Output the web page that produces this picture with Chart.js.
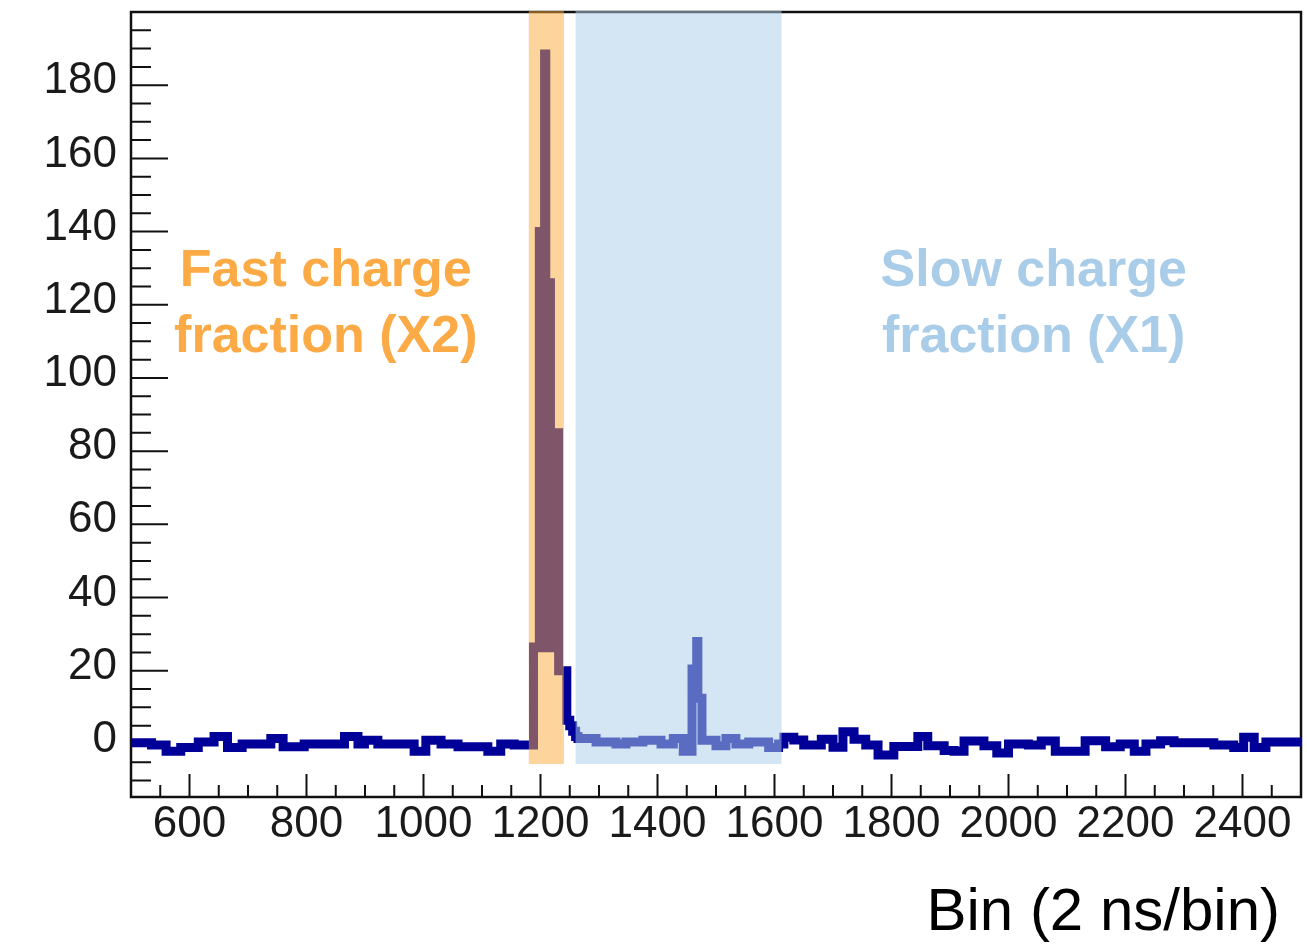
<!DOCTYPE html>
<html>
<head>
<meta charset="utf-8">
<script src="https://cdn.jsdelivr.net/npm/chart.js@4.4.0/dist/chart.umd.min.js"></script>
<style>
  html, body { margin: 0; padding: 0; background: #fff; }
  #wrap { width: 1307px; height: 952px; }
</style>
</head>
<body>
<div id="wrap"><canvas id="pulse-chart"></canvas></div>
<script>
// Waveform: bin where each step starts, and the level it holds
const stepStart = [500, 535, 560, 585, 615, 642, 665, 690, 739, 760, 796, 865, 888, 899, 922, 984, 1004, 1030, 1059, 1110, 1132, 1155,
  1188, 1198, 1207, 1209, 1217, 1231, 1245, 1250, 1255, 1260,
  1264, 1295, 1329, 1346, 1375, 1406, 1427, 1444, 1459, 1467, 1469, 1476, 1500, 1517, 1534, 1556, 1590, 1607,
  1616, 1633, 1650, 1680, 1700, 1717, 1736, 1756, 1777, 1804, 1845, 1862, 1890, 1907, 1924, 1958, 1980, 2000,
  2034, 2056, 2080, 2131, 2166, 2191, 2215, 2235, 2260, 2283, 2351, 2385, 2402, 2420, 2440, 2500];
const stepLevel = [0.3, -0.3, -2, -1, 0.5, 2, -1, 0, 1.5, -0.8, 0, 2, 0, 1, 0, -2, 1, 0, -0.8, -2, 0, -0.3,
  26.5, 140, 188.5, 126, 85, 20, 6.5, 5, 3.5, 2,
  1.5, 0.5, 0, 0.5, 1, 0, 1.5, -2, 20.5, 28, 12.5, 1, -0.5, 1.5, 0, 0.5, -1, 0,
  1.8, 1.1, -0.3, 1.3, -0.9, 3.3, 1.3, -0.3, -3, -0.7, 2, -0.5, -1.8, -2, 0.8, -0.5, -2.5, 0,
  -0.3, 0.8, -2, 0.9, -0.8, 0, -2, 0, 0.9, 0.3, -0.3, -1, 1.8, -1, 0.5, 0.5];

// Axes
const xRange = [500, 2500];
const yRange = [-14.5, 200];
const xTicks = [600, 800, 1000, 1200, 1400, 1600, 1800, 2000, 2200, 2400];
const yTicks = [0, 20, 40, 60, 80, 100, 120, 140, 160, 180];
const xMinorStep = 50;
const yMinorStep = 5;
const xTitle = "Bin (2 ns/bin)";

// Charge integration windows (bins), drawn over the waveform
const fastWindow = [1180, 1240];
const slowWindow = [1260, 1612];
const windowLow = -5.5;

const fastLabel = ["Fast charge", "fraction (X2)"];
const slowLabel = ["Slow charge", "fraction (X1)"];
const labelX = [833, 2043];
const labelY = [129, 111];

const navy = "#000099";
const fastColor = "rgba(251, 169, 57, 0.5)";
const slowColor = "rgba(172, 205, 232, 0.52)";
const fastText = "#FBAA45";
const slowText = "#A9CCE8";
const frameColor = "#111";

const points = stepStart.map((x, i) => ({ x: x, y: stepLevel[i] }));
// the dense fast pulse looks solid above ~25 counts
const pulsePoints = points.filter(p => p.x >= fastWindow[0] && p.x <= fastWindow[1]);

const rootFrame = {
  id: "rootFrame",
  beforeDatasetsDraw(chart) {
    const { ctx, chartArea: a, scales: { x, y } } = chart;
    ctx.save();
    ctx.strokeStyle = frameColor;
    ctx.lineWidth = 2;
    ctx.beginPath();
    for (let v = xRange[0] + xMinorStep; v < xRange[1]; v += xMinorStep) {
      const px = x.getPixelForValue(v);
      const len = v % 200 === 0 ? 23 : 12;
      ctx.moveTo(px, a.bottom);
      ctx.lineTo(px, a.bottom - len);
    }
    for (let v = -10; v < yRange[1]; v += yMinorStep) {
      const py = y.getPixelForValue(v);
      const len = v % 20 === 0 ? 37 : 20;
      ctx.moveTo(a.left, py);
      ctx.lineTo(a.left + len, py);
    }
    ctx.stroke();
    ctx.lineWidth = 2.5;
    ctx.strokeRect(a.left, a.top, a.right - a.left, a.bottom - a.top);
    ctx.restore();
  },
  afterDatasetsDraw(chart) {
    const { ctx, chartArea: a, scales: { x, y } } = chart;
    ctx.save();
    const band = (win, color) => {
      const x0 = x.getPixelForValue(win[0]);
      const x1 = x.getPixelForValue(win[1]);
      const y1 = y.getPixelForValue(windowLow);
      ctx.fillStyle = color;
      ctx.fillRect(x0, a.top - 1, x1 - x0, y1 - a.top + 1);
    };
    band(fastWindow, fastColor);
    band(slowWindow, slowColor);

    ctx.font = 'bold 52px "Liberation Sans", Arial, sans-serif';
    ctx.textAlign = "center";
    ctx.textBaseline = "middle";
    ctx.fillStyle = fastText;
    fastLabel.forEach((t, i) => ctx.fillText(t, x.getPixelForValue(labelX[0]), y.getPixelForValue(labelY[i])));
    ctx.fillStyle = slowText;
    slowLabel.forEach((t, i) => ctx.fillText(t, x.getPixelForValue(labelX[1]), y.getPixelForValue(labelY[i])));

    ctx.font = '60px "Liberation Sans", Arial, sans-serif';
    ctx.textAlign = "right";
    ctx.textBaseline = "alphabetic";
    ctx.fillStyle = "#000";
    ctx.fillText(xTitle, 1280, 930);
    ctx.restore();
  }
};

const tickFont = { family: '"Liberation Sans", Arial, sans-serif', size: 44 };

const pulseChart = new Chart(document.getElementById("pulse-chart"), {
  type: "line",
  data: {
    datasets: [
      {
        data: points,
        stepped: true,
        borderColor: navy,
        borderWidth: 9,
        borderJoinStyle: "miter",
        pointRadius: 0,
        fill: false
      },
      {
        data: pulsePoints,
        stepped: true,
        borderWidth: 0,
        borderColor: "rgba(0,0,0,0)",
        pointRadius: 0,
        fill: { target: { value: 25 }, above: navy, below: "rgba(0,0,0,0)" }
      }
    ]
  },
  options: {
    responsive: true,
    maintainAspectRatio: false,
    animation: false,
    layout: { padding: { top: 12, right: 6, left: 0, bottom: 0 } },
    plugins: { legend: { display: false }, tooltip: { enabled: false } },
    scales: {
      x: {
        type: "linear",
        min: xRange[0],
        max: xRange[1],
        afterBuildTicks: s => { s.ticks = xTicks.map(v => ({ value: v })); },
        afterFit: s => { s.height = 155; s.paddingLeft = 0; s.paddingRight = 0; },
        grid: { display: false },
        border: { display: false },
        ticks: { font: tickFont, color: "#1a1a1a", padding: -7, maxRotation: 0, autoSkip: false,
          callback: v => String(v) }
      },
      y: {
        min: yRange[0],
        max: yRange[1],
        afterBuildTicks: s => { s.ticks = yTicks.map(v => ({ value: v })); },
        afterFit: s => { s.width = 131; s.paddingTop = 0; s.paddingBottom = 0; },
        grid: { display: false },
        border: { display: false },
        ticks: { font: tickFont, color: "#1a1a1a", padding: 6, labelOffset: -4,
          callback: v => String(v) }
      }
    }
  },
  plugins: [rootFrame]
});
</script>
</body>
</html>
